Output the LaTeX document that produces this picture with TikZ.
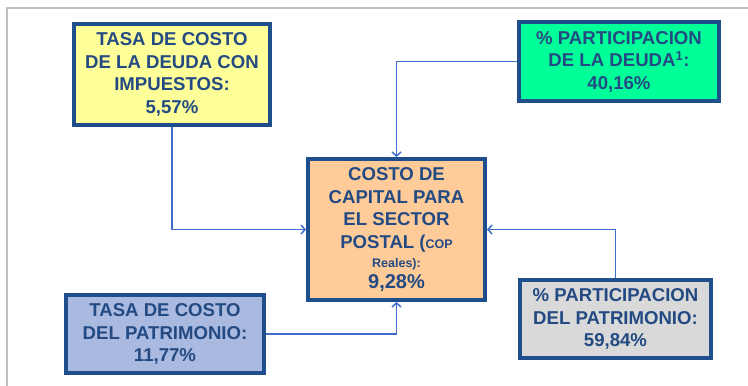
\documentclass[tikz,border=0pt]{standalone}
\usepackage{fontspec}
\setmainfont{Liberation Sans}
\usepackage{tikz}
\usetikzlibrary{arrows.meta}

\definecolor{boxline}{HTML}{1F4E8C}
\definecolor{boxtext}{HTML}{234A82}
\definecolor{connline}{HTML}{3F6FCB}
\definecolor{framegray}{HTML}{BFBFBF}
\definecolor{fyellow}{HTML}{FFFF99}
\definecolor{fgreen}{HTML}{00FF99}
\definecolor{forange}{HTML}{FFCC99}
\definecolor{fblue}{HTML}{A9B9E0}
\definecolor{fgray}{HTML}{D9D9D9}

\begin{document}
\begin{tikzpicture}[x=1pt,y=-1pt,>={Straight Barb[length=4pt,width=9pt]},
                    semithick]
\tikzstyle{databox}=[draw=boxline,line width=4pt,text=boxtext,align=center,inner sep=2pt,
                     font=\fontsize{18.6}{22.5}\selectfont\bfseries]
\tikzset{conn/.style={->,draw=connline,line width=1.5pt}}

        \useasboundingbox (0,0) rectangle (748,386);
        \draw[framegray,line width=2pt] (7,386) -- (7,8) -- (748,8);

        \node[databox,fill=fyellow,minimum width=196pt,minimum height=101pt]   (deuda)  at (172,74.5)
              {TASA DE COSTO\\DE LA DEUDA CON\\IMPUESTOS:\\5,57\%};
        \node[databox,fill=fgreen,minimum width=200pt,minimum height=79pt]     (pdeuda) at (619,61.5)
              {\% PARTICIPACION\\DE LA DEUDA\textsuperscript{1}:\\40,16\%};
        \node[databox,fill=forange,minimum width=177pt,minimum height=141pt]   (costo)  at (396.5,229.5)
              {COSTO DE\\CAPITAL PARA\\EL SECTOR\\POSTAL ({\fontsize{12.5}{14}\selectfont COP}\\[-3pt]
               {\fontsize{12.5}{14}\selectfont Reales):}\\[-2pt]{\fontsize{20}{22}\selectfont 9,28\%}};
        \node[databox,fill=fblue,minimum width=198pt,minimum height=78pt]      (patr)   at (165,334)
              {TASA DE COSTO\\DEL PATRIMONIO:\\11,77\%};
        \node[databox,fill=fgray,minimum width=191pt,minimum height=78pt]      (ppatr)  at (615.5,319)
              {\% PARTICIPACION\\DEL PATRIMONIO:\\59,84\%};

        \draw[conn] (deuda)  |- (costo);
        \draw[conn] (pdeuda) -| (costo);
        \draw[conn] (patr)   -| (costo);
        \draw[conn] (ppatr)  |- (costo);
        % end connectors

\end{tikzpicture}
\end{document}
